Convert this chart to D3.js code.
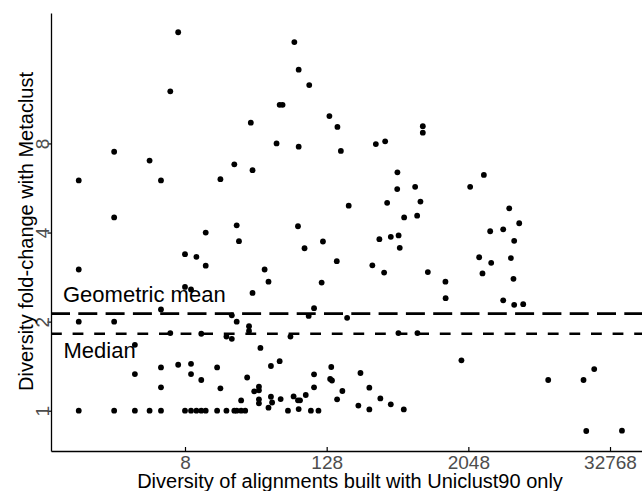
<!DOCTYPE html>
<html>
<head>
<meta charset="utf-8">
<script src="https://cdn.jsdelivr.net/npm/d3@7"></script>
<style>
    body { margin: 0; background: #ffffff; }
    text { font-family: "Liberation Sans", Arial, Helvetica, sans-serif; }
</style>
</head>
<body>
<svg id="scatter" width="642" height="491"></svg>
<script>
// diversity with Uniclust90 only (x) and fold-change with Metaclust (y), same order
const diversity = [
    7, 68, 74, 91, 6, 51, 54, 135, 29, 48, 74, 2, 4, 21, 30, 1, 5, 16, 2, 12,
    22, 73, 23, 119, 83, 158, 169, 840, 840, 335, 402, 511, 2775, 2122, 509, 723, 197, 418, 802, 583,
    752, 4559, 5542, 3140, 4051, 5022, 359, 449, 523, 535, 156, 313, 394, 927, 1308, 1313, 2531, 2701, 3203, 4707,
    4953, 4051, 5022, 5992, 116, 191, 521, 756, 1789, 140, 137, 142, 174, 157, 248, 295, 238, 295, 366, 449,
    579, 9775, 19510, 24050, 20580, 41390, 1, 8, 10, 12, 8, 9, 38, 41, 30, 5, 100, 90, 20, 22,
    1, 2, 28, 28, 6, 11, 18, 20, 63, 3, 35, 7, 9, 5, 15, 51, 43, 3, 9, 11,
    27, 100, 5, 16, 34, 34, 31, 100, 24, 34, 34, 43, 44, 41, 52, 67, 73, 76, 85, 74,
    1, 2, 3, 4, 5, 8, 9, 10, 11, 12, 15, 18, 21, 22, 24, 26, 60, 94, 109
];
const foldChange = [
    19, 17.6, 14.2, 12.6, 12, 10.8, 10.8, 9.9, 9.4, 8, 7.8, 7.5, 7, 6.8, 6.5, 6, 6, 6.06, 4.5, 4,
    4.23, 4.2, 3.74, 3.73, 3.54, 9.1, 7.55, 9.15, 8.7, 7.96, 8.13, 6.39, 6.26, 5.71, 5.61, 5.71, 4.93, 5.04, 5.09, 4.5,
    4.56, 4.83, 4.3, 4.04, 4.1, 3.75, 3.8, 3.87, 3.91, 3.55, 3.2, 3.1, 2.93, 2.94, 2.73, 2.4, 3.3, 2.91, 3.16, 3.28,
    2.79, 2.36, 2.28, 2.29, 2.71, 2.06, 1.83, 1.83, 1.48, 1.405, 1.28, 1.265, 1.166, 1.093, 1.341, 1.196, 1.041, 1.01, 1.1, 1.051,
    1.01, 1.27, 1.27, 1.383, 0.854, 0.856, 3, 3.38, 3.31, 3.09, 2.62, 2.57, 3, 2.73, 2.5, 2.2, 2.22, 2.09, 2.1, 2,
    2, 2, 1.93, 1.86, 1.83, 1.82, 1.78, 1.75, 1.78, 1.67, 1.63, 1.43, 1.44, 1.4, 1.4, 1.47, 1.416, 1.33, 1.33, 1.27,
    1.295, 1.327, 1.2, 1.19, 1.205, 1.172, 1.163, 1.2, 1.083, 1.093, 1.059, 1.115, 1.066, 1.024, 1.095, 1.118, 1.084, 1.084, 1.13, 1.013,
    1, 1, 1, 1, 1, 1, 1, 1, 1, 1, 1, 1, 1, 1, 1, 1, 1, 1, 1
];

const xTicks = [8, 128, 2048, 32768];
const yTicks = [1, 2, 4, 8];
const refNames = ["Geometric mean", "Median"];
const refValues = [2.13, 1.82];

const width = 642;
const height = 491;
const plotLeft = 51;
const plotRight = 642;
const plotTop = 13;
const plotBottom = 451;

const svg = d3.select("#scatter");

const x = d3.scaleLog().base(2)
    .domain([0.581, 61270])
    .range([plotLeft, plotRight]);
const y = d3.scaleLog().base(2)
    .domain([0.731, 22.07])
    .range([plotBottom, plotTop]);

// x axis (ticks point into the panel)
const xAxis = svg.append("g")
    .attr("transform", `translate(0,${plotBottom})`)
    .call(d3.axisBottom(x)
        .tickValues(xTicks)
        .tickFormat(d3.format("d"))
        .tickSizeInner(-4)
        .tickSizeOuter(0)
        .tickPadding(4.5));

// y axis, labels turned sideways
const yAxis = svg.append("g")
    .attr("transform", `translate(${plotLeft},0)`)
    .call(d3.axisLeft(y)
        .tickValues(yTicks)
        .tickFormat(d3.format("d"))
        .tickSizeInner(3.5)
        .tickSizeOuter(0));

yAxis.selectAll(".tick text")
    .attr("transform", "rotate(-90)")
    .attr("x", 0)
    .attr("y", -2.5)
    .attr("dy", 0)
    .attr("text-anchor", "middle");

[xAxis, yAxis].forEach(function (g) {
    g.select(".domain").attr("stroke", "#000").attr("stroke-width", 1.3);
    g.selectAll(".tick line").attr("stroke", "#000").attr("stroke-width", 1.2);
    g.selectAll(".tick text")
        .attr("fill", "#4d4d4d")
        .attr("font-size", "19px")
        .attr("font-family", "Liberation Sans, Arial, sans-serif");
});

// axis titles
svg.append("text")
    .attr("x", 350)
    .attr("y", 487.5)
    .attr("text-anchor", "middle")
    .attr("font-size", "20px")
    .attr("fill", "#000")
    .text("Diversity of alignments built with Uniclust90 only");

svg.append("text")
    .attr("transform", "translate(33,231.5) rotate(-90)")
    .attr("text-anchor", "middle")
    .attr("font-size", "20px")
    .attr("fill", "#000")
    .text("Diversity fold-change with Metaclust");

// reference lines
const dashes = ["19,8.3", "10.8,10.8"];
for (let i = 0; i < refValues.length; i++) {
    svg.append("line")
        .attr("x1", plotLeft)
        .attr("x2", plotRight)
        .attr("y1", y(refValues[i]))
        .attr("y2", y(refValues[i]))
        .attr("stroke", "#000")
        .attr("stroke-width", 2.7)
        .attr("stroke-dasharray", dashes[i]);
}

svg.append("text")
    .attr("x", 63)
    .attr("y", y(refValues[0]) - 11.6)
    .attr("font-size", "22px")
    .attr("fill", "#000")
    .text(refNames[0]);

svg.append("text")
    .attr("x", 63.5)
    .attr("y", y(refValues[1]) + 24.6)
    .attr("font-size", "22px")
    .attr("fill", "#000")
    .text(refNames[1]);

// points
svg.append("g")
    .selectAll("circle")
    .data(d3.range(diversity.length))
    .join("circle")
    .attr("cx", function (i) { return x(diversity[i]); })
    .attr("cy", function (i) { return y(foldChange[i]); })
    .attr("r", 2.9)
    .attr("fill", "#000");
</script>
</body>
</html>
